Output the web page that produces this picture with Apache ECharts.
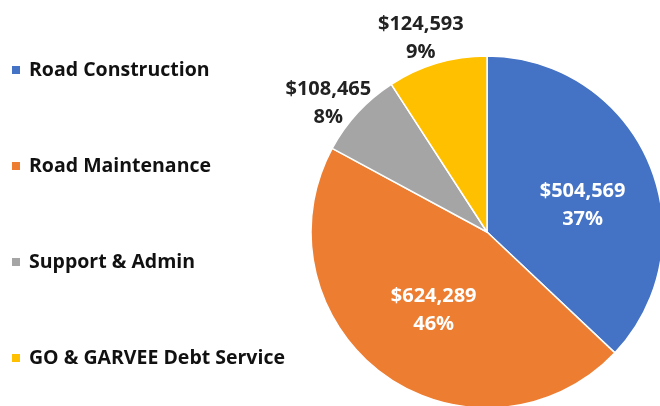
<!DOCTYPE html>
<html>
<head>
<meta charset="utf-8">
<script src="https://cdn.jsdelivr.net/npm/echarts@6/dist/echarts.min.js"></script>
<style>
  html, body { margin: 0; padding: 0; background: #fff; }
  #chart { width: 660px; height: 406px; }
</style>
</head>
<body>
<div id="chart"></div>
<script>
const categories = ['Road Construction', 'Road Maintenance', 'Support & Admin', 'GO & GARVEE Debt Service']
const amounts = [504569, 624289, 108465, 124593]
const percents = ['37%', '46%', '8%', '9%']
const colors = ['#4472C4', '#ED7D31', '#A5A5A5', '#FFC000']
const insideLabel = [true, true, false, false]
// nudges so labels sit where the original placed them
const labelShift = [[12, 9], [0, 5], [-17, -10], [-9, -17]]

const font = '"Open Sans", Lato, sans-serif'
const chart = echarts.init(document.getElementById('chart'))

const seriesData = categories.map((name, i) => ({
  name: name,
  value: amounts[i],
  itemStyle: { color: colors[i] },
  label: insideLabel[i]
    ? { position: 'inside', color: '#fff' }
    : { position: 'outside', color: '#222' }
}))

const opt = {
  animation: false,
  legend: {
    orient: 'vertical',
    left: 5,
    top: 55,
    itemWidth: 10,
    itemHeight: 10,
    itemGap: 76,
    icon: 'rect',
    selectedMode: false,
    textStyle: { fontFamily: font, fontWeight: 'bold', fontSize: 19.5, color: '#111', padding: [0, 0, 0, 3] },
    data: categories
  },
  series: [
    {
      type: 'pie',
      center: [487, 232],
      radius: 176,
      startAngle: 90,
      clockwise: true,
      itemStyle: { borderColor: '#fff', borderWidth: 1.5 },
      label: {
        show: true,
        fontFamily: font,
        fontWeight: 'bold',
        fontSize: 20,
        lineHeight: 28,
        align: 'center',
        formatter: p => '$' + p.value.toLocaleString('en-US') + '\n' + percents[p.dataIndex]
      },
      labelLine: { show: false, length: 8, length2: 0 },
      labelLayout: p => ({ align: 'center', dx: labelShift[p.dataIndex][0], dy: labelShift[p.dataIndex][1] }),
      data: seriesData
    }
  ]
}
chart.setOption(opt)
</script>
</body>
</html>
